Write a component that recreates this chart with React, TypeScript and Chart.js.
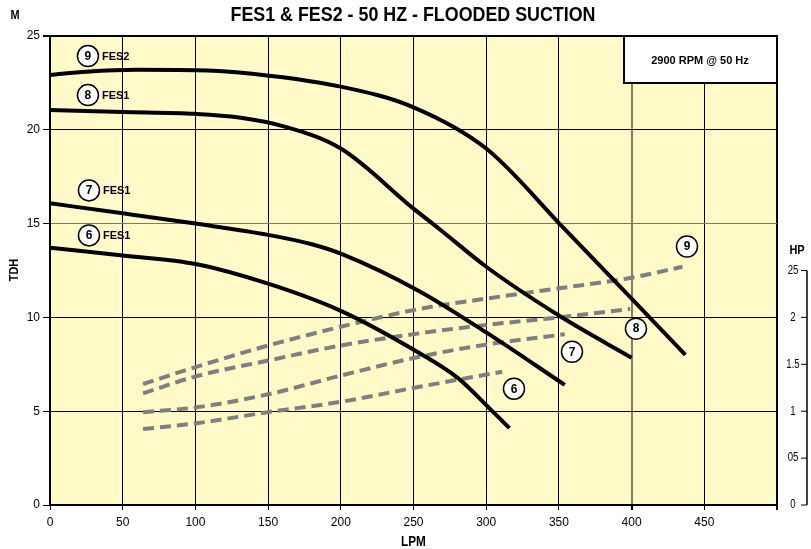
import React, { useEffect, useRef } from "react";
import { Chart, registerables } from "chart.js";

Chart.register(...registerables);

// Pump head curves (LPM vs TDH in M)
const flow9 = [0, 25, 60, 100, 130, 200, 250, 300, 354, 400, 437];
const head9 = [22.93, 23.1, 23.2, 23.18, 23.06, 22.3, 21.2, 19.0, 14.7, 11.0, 8.0];
const flow8 = [0, 50, 100, 130, 160, 200, 250, 268, 300, 350, 400];
const head8 = [21.05, 20.95, 20.85, 20.66, 20.2, 19.0, 15.8, 14.7, 12.7, 10.1, 7.85];
const flow7 = [0, 50, 100, 150, 180, 200, 254, 300, 354];
const head7 = [16.08, 15.55, 15.0, 14.4, 13.9, 13.4, 11.4, 9.2, 6.4];
const flow6 = [0, 50, 100, 150, 200, 254, 280, 303, 316];
const head6 = [13.71, 13.3, 12.85, 11.8, 10.35, 8.1, 6.8, 5.1, 4.1];

// Power curves (LPM vs HP)
const pflow9 = [64, 100, 150, 200, 254, 300, 350, 399, 435];
const pow9 = [1.29, 1.47, 1.7, 1.9, 2.09, 2.2, 2.31, 2.42, 2.54];
const pflow8 = [64, 100, 150, 200, 254, 300, 350, 399];
const pow8 = [1.19, 1.37, 1.54, 1.7, 1.83, 1.92, 2.0, 2.09];
const pflow7 = [64, 100, 150, 200, 254, 300, 354];
const pow7 = [0.99, 1.04, 1.18, 1.38, 1.58, 1.71, 1.82];
const pflow6 = [64, 100, 150, 200, 254, 311];
const pow6 = [0.81, 0.87, 0.99, 1.1, 1.26, 1.42];

// Axis ticks
const hpTickValues = [0, 0.5, 1, 1.5, 2, 2.5];
const hpTickLabels = ["0", "05", "1", "1.5", "2", "25"];

// Curve tags
const tagNums = ["9", "8", "7", "6", "9", "8", "7", "6"];
const tagText = ["FES2", "FES1", "FES1", "FES1", "", "", "", ""];
const tagX = [26.1, 26.1, 26.8, 26.8, 438.1, 403, 359, 319.1];
const tagY = [23.93, 21.85, 16.77, 14.37, 13.78, 9.4, 8.17, 6.2];

const TITLE = "FES1 & FES2 - 50 HZ - FLOODED SUCTION";
const RPM_NOTE = "2900 RPM @ 50 Hz";

const ARIAL = "'Liberation Sans', Arial, sans-serif";

const pts = (xs: number[], ys: number[]) => xs.map((x, i) => ({ x, y: ys[i] }));

// narrow-looking text by horizontal squeeze
function narrowText(ctx: any, text: string, x: number, y: number, font: string, sx = 0.84) {
  ctx.save();
  ctx.translate(x, y);
  ctx.scale(sx, 1);
  ctx.font = font;
  ctx.textAlign = "center";
  ctx.textBaseline = "middle";
  ctx.fillText(text, 0, 0);
  ctx.restore();
}

export default function App() {
  const ref = useRef<HTMLCanvasElement | null>(null);

  useEffect(() => {
    if (!ref.current) return;

    const decor = {
      id: "decor",
      beforeDraw(chart: any) {
        const { ctx, chartArea: a } = chart;
        ctx.save();
        ctx.fillStyle = "#FFFAC8";
        ctx.fillRect(a.left, a.top, a.right - a.left, a.bottom - a.top);
        ctx.restore();
      },
      afterDatasetsDraw(chart: any) {
        const { ctx } = chart;
        const xs = chart.scales.x;
        const ys = chart.scales.y;
        ctx.save();
        for (let i = 0; i < tagNums.length; i++) {
          const cx = xs.getPixelForValue(tagX[i]);
          const cy = ys.getPixelForValue(tagY[i]);
          ctx.beginPath();
          ctx.arc(cx, cy, 10.5, 0, Math.PI * 2);
          ctx.fillStyle = "#fff";
          ctx.fill();
          ctx.lineWidth = 1.5;
          ctx.strokeStyle = "#000";
          ctx.stroke();
          ctx.fillStyle = "#000";
          ctx.font = `bold 12px ${ARIAL}`;
          ctx.textAlign = "center";
          ctx.textBaseline = "middle";
          ctx.fillText(tagNums[i], cx, cy + 0.5);
          if (tagText[i]) {
            ctx.font = `bold 11px ${ARIAL}`;
            ctx.textAlign = "left";
            ctx.fillText(tagText[i], cx + 14, cy + 0.5);
          }
        }
        ctx.restore();
      },
      afterDraw(chart: any) {
        const { ctx, chartArea: a } = chart;
        const hp = chart.scales.hp;
        ctx.save();
        ctx.fillStyle = "#000";
        narrowText(ctx, TITLE, 413, 15, `bold 21px ${ARIAL}`, 0.85);
        narrowText(ctx, "M", 15, 15, `bold 13px ${ARIAL}`);
        narrowText(ctx, "LPM", (a.left + a.right) / 2, 542, `bold 14px ${ARIAL}`);
        ctx.save();
        ctx.translate(14, 270);
        ctx.rotate(-Math.PI / 2);
        narrowText(ctx, "TDH", 0, 0, `bold 13px ${ARIAL}`);
        ctx.restore();
        // RPM box
        ctx.fillStyle = "#fff";
        ctx.fillRect(624, 36, 153, 47);
        ctx.lineWidth = 2;
        ctx.strokeStyle = "#000";
        ctx.strokeRect(624, 36, 153, 47);
        ctx.fillStyle = "#000";
        ctx.font = `bold 11px ${ARIAL}`;
        ctx.textAlign = "center";
        ctx.textBaseline = "middle";
        ctx.fillText(RPM_NOTE, 700, 61);
        // HP axis
        const axX = 807;
        const yTop = hp.getPixelForValue(hpTickValues[hpTickValues.length - 1]);
        const yBot = hp.getPixelForValue(hpTickValues[0]);
        ctx.lineWidth = 1.5;
        ctx.beginPath();
        ctx.moveTo(axX, yTop);
        ctx.lineTo(axX, yBot);
        ctx.stroke();
        hpTickValues.forEach((v, i) => {
          const y = hp.getPixelForValue(v);
          ctx.lineWidth = 1;
          ctx.beginPath();
          ctx.moveTo(axX - 6, y);
          ctx.lineTo(axX, y);
          ctx.stroke();
          narrowText(ctx, hpTickLabels[i], 793, y, `12px ${ARIAL}`, 0.8);
        });
        narrowText(ctx, "HP", 797, yTop - 20, `bold 13px ${ARIAL}`);
        ctx.restore();
      },
    };

    const solid = (data: any[]) => ({
      data,
      borderColor: "#000",
      borderWidth: 4,
      pointRadius: 0,
      fill: false,
      cubicInterpolationMode: "monotone" as const,
      yAxisID: "y",
      order: 0,
    });
    const dashed = (data: any[]) => ({
      data,
      borderColor: "#7f7f7f",
      borderWidth: 4,
      borderDash: [11, 6],
      pointRadius: 0,
      fill: false,
      cubicInterpolationMode: "monotone" as const,
      yAxisID: "hp",
      order: 1,
    });

    const chart = new Chart(ref.current, {
      type: "line",
      data: {
        datasets: [
          solid(pts(flow9, head9)),
          solid(pts(flow8, head8)),
          solid(pts(flow7, head7)),
          solid(pts(flow6, head6)),
          dashed(pts(pflow9, pow9)),
          dashed(pts(pflow8, pow8)),
          dashed(pts(pflow7, pow7)),
          dashed(pts(pflow6, pow6)),
        ],
      },
      options: {
        responsive: false,
        animation: false,
        devicePixelRatio: 1,
        layout: { padding: { top: 36, right: 34, left: 0, bottom: 0 } },
        plugins: { legend: { display: false }, tooltip: { enabled: false }, title: { display: false } },
        scales: {
          x: {
            type: "linear",
            min: 0,
            max: 500,
            afterFit: (s: any) => {
              s.height = 44;
            },
            ticks: {
              stepSize: 50,
              autoSkip: false,
              maxRotation: 0,
              padding: 5,
              color: "#000",
              font: { family: ARIAL, size: 12 },
              callback: (v: any) => (v === 500 ? "" : String(v)),
            },
            grid: {
              color: (c: any) => (c.tick && c.tick.value === 400 ? "#857d5e" : "#000"),
              lineWidth: (c: any) => (c.tick && (c.tick.value === 500 ? 2 : c.tick.value === 400 ? 2 : 1)),
              tickLength: 5,
              tickColor: "#000",
            },
            border: { display: true, color: "#000", width: 2 },
          },
          y: {
            type: "linear",
            min: 0,
            max: 25,
            afterFit: (s: any) => {
              s.width = 50;
            },
            ticks: {
              stepSize: 5,
              padding: 3,
              color: "#000",
              font: { family: ARIAL, size: 12 },
            },
            grid: {
              color: (c: any) => (c.tick && c.tick.value === 15 ? "#807a60" : "#000"),
              lineWidth: (c: any) => (c.tick && c.tick.value === 25 ? 2 : 1),
              tickLength: 7,
              tickColor: "#000",
            },
            border: { display: true, color: "#000", width: 2 },
          },
          hp: {
            type: "linear",
            position: "right",
            display: false,
            min: 0,
            max: 5,
          },
        },
      },
      plugins: [decor],
    });

    return () => chart.destroy();
  }, []);

  return (
    <div style={{ position: "fixed", left: 0, top: 0, width: 811, height: 549, background: "#fff" }}>
      <canvas ref={ref} width={811} height={549} style={{ width: 811, height: 549, display: "block" }} />
    </div>
  );
}
